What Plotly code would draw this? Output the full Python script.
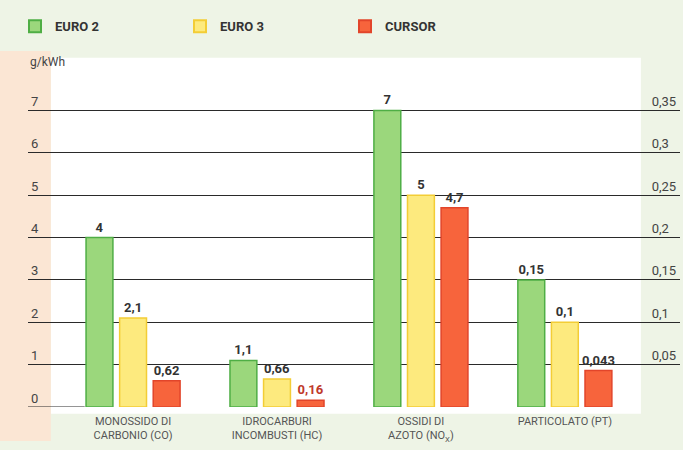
import plotly.graph_objects as go

categories = ["MONOSSIDO DI<br>CARBONIO (CO)", "IDROCARBURI<br>INCOMBUSTI (HC)",
              "OSSIDI DI<br>AZOTO (NO<sub>X</sub>)", "PARTICOLATO (PT)"]
series_names = ["EURO 2", "EURO 3", "CURSOR"]
# g/kWh values for CO, HC, NOx
gas_values = {
    "EURO 2": [4, 1.1, 7],
    "EURO 3": [2.1, 0.66, 5],
    "CURSOR": [0.62, 0.16, 4.7],
}
# particulate values (right axis)
pt_values = {
    "EURO 2": 0.15,
    "EURO 3": 0.1,
    "CURSOR": 0.043,
}
left_ticks = [0, 1, 2, 3, 4, 5, 6, 7]
right_ticks = [0.05, 0.1, 0.15, 0.2, 0.25, 0.3, 0.35]

colors = {"EURO 2": "#9bd77c", "EURO 3": "#fdea7e", "CURSOR": "#f7643c"}
edges = {"EURO 2": "#4fae45", "EURO 3": "#f3cd36", "CURSOR": "#e2452a"}
text_colors = {"EURO 2": ["#333", "#333", "#333"], "EURO 3": ["#333", "#333", "#333"],
               "CURSOR": ["#333", "#c0392b", "#333"]}

FONT = "Liberation Sans Narrow, Roboto, Arial"

def fmt(v):
    return str(v).replace(".", ",")

fig = go.Figure()
for name in series_names:
    fig.add_trace(go.Bar(
        x=categories[:3], y=gas_values[name], name=name,
        marker=dict(color=colors[name], line=dict(color=edges[name], width=1.5)),
        text=[fmt(v) for v in gas_values[name]], textposition="outside",
        textfont=dict(size=13, color=text_colors[name], family=FONT, weight="bold"),
        cliponaxis=False, constraintext="none",
        offsetgroup=name, alignmentgroup="all", yaxis="y",
    ))
for name in series_names:
    fig.add_trace(go.Bar(
        x=[categories[3]], y=[pt_values[name]], name=name, showlegend=False,
        marker=dict(color=colors[name], line=dict(color=edges[name], width=1.5)),
        text=[fmt(pt_values[name])], textposition="outside",
        textfont=dict(size=13, color="#333", family=FONT, weight="bold"),
        cliponaxis=False, constraintext="none",
        offsetgroup=name, alignmentgroup="all", yaxis="y2",
    ))

fig.update_layout(
    width=683, height=450,
    margin=dict(l=28, r=3, t=68, b=43, autoexpand=False),
    paper_bgcolor="#eef4e6", plot_bgcolor="rgba(0,0,0,0)",
    barmode="group", bargap=0.30, bargroupgap=0.2,
    font=dict(family=FONT, color="#444"),
    legend=dict(orientation="h", x=0.022, xref="container", y=0.975, yref="container",
                yanchor="top", xanchor="left", entrywidth=120, entrywidthmode="pixels",
                font=dict(size=13, color="#333", family=FONT, weight="bold"),
                bgcolor="rgba(0,0,0,0)", itemsizing="constant", tracegroupgap=0),
    xaxis=dict(range=[-0.73, 3.80], showgrid=False, zeroline=False, showline=False,
               tickfont=dict(size=11, color="#555"), ticks="", ticklabelstandoff=6),
    yaxis=dict(range=[0, 8], tickvals=left_ticks, ticktext=[str(t) for t in left_ticks],
               showgrid=True, gridcolor="#2a2a2a", gridwidth=1, zeroline=False,
               ticklabelposition="inside", ticklabelshift=-9,
               tickfont=dict(size=13, color="#444")),
    yaxis2=dict(range=[0, 0.4], overlaying="y", side="right", anchor="free", position=0.955,
                tickvals=right_ticks,
                ticktext=[fmt(t) for t in right_ticks], showgrid=False, zeroline=False,
                ticklabelposition="outside", ticklabelshift=-9, ticks="",
                tickfont=dict(size=13, color="#444")),
    shapes=[
        dict(type="rect", xref="paper", yref="paper", x0=0.035, x1=0.94, y0=-0.02, y1=1.03,
             fillcolor="white", line=dict(width=0), layer="below"),
        dict(type="rect", xref="paper", yref="paper", x0=-0.05, x1=0.035, y0=-0.1, y1=1.05,
             fillcolor="#fbe6d4", line=dict(width=0), layer="below"),
        dict(type="line", xref="paper", yref="y", x0=0.0, x1=0.087, y0=0, y1=0,
             line=dict(color="#2a2a2a", width=1)),
    ],
    annotations=[dict(text="g/kWh", xref="paper", yref="paper", x=0.0, y=0.99,
                      xanchor="left", yanchor="bottom", showarrow=False,
                      font=dict(size=12, color="#444"))],
)

fig.write_html("out.html", config={"displayModeBar": False},
               post_script="document.body.style.margin='0';")
